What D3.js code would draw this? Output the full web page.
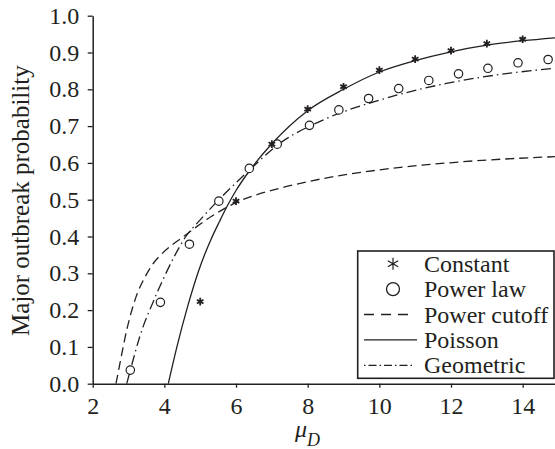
<!DOCTYPE html>
<html>
<head>
<meta charset="utf-8">
<script src="https://cdn.jsdelivr.net/npm/d3@7"></script>
<style>
  html, body { margin: 0; padding: 0; background: #fff; }
  svg { display: block; }
  text { font-family: "Liberation Serif", "Times New Roman", serif; fill: #231f20; }
</style>
</head>
<body>
<svg id="drawing_region"></svg>
<script>
// values
const xTicks = [2, 4, 6, 8, 10, 12, 14];
const yTicks = [0, 0.1, 0.2, 0.3, 0.4, 0.5, 0.6, 0.7, 0.8, 0.9, 1.0];

const muConstant   = [5, 6, 7, 8, 9, 10, 11, 12, 13, 14];
const probConstant = [0.223, 0.496, 0.651, 0.746, 0.807, 0.852, 0.882, 0.905, 0.924, 0.936];

const muPowerLaw   = [3.05, 3.89, 4.70, 5.52, 6.37, 7.15, 8.05, 8.87, 9.70, 10.54, 11.38, 12.21, 13.03, 13.87, 14.71];
const probPowerLaw = [0.037, 0.221, 0.379, 0.496, 0.585, 0.651, 0.702, 0.744, 0.775, 0.802, 0.824, 0.842, 0.857, 0.872, 0.881];

const muCutoff   = [2.65, 2.76, 2.95, 3.21, 3.46, 3.7, 3.92, 4.2, 4.51, 4.81, 5.32, 5.7, 6.0, 7.3, 8.0, 10.0, 12.3, 14.9];
const probCutoff = [0, 0.055, 0.146, 0.236, 0.29, 0.328, 0.352, 0.376, 0.398, 0.42, 0.455, 0.477, 0.492, 0.533, 0.549, 0.581, 0.603, 0.617];

const muPoisson   = [4.11, 4.35, 4.65, 4.95, 5.3, 5.55, 5.74, 6.0, 6.37, 7.0, 8, 9, 10, 11, 12, 13, 14, 14.9];
const probPoisson = [0, 0.1, 0.21, 0.305, 0.392, 0.443, 0.48, 0.525, 0.578, 0.652, 0.742, 0.80, 0.847, 0.878, 0.902, 0.92, 0.932, 0.94];

const muGeometric   = [2.95, 3.06, 3.32, 3.69, 4.02, 4.3, 4.6, 5.0, 5.5, 6.0, 6.37, 7.15, 8.44, 10.02, 11.87, 13.74, 14.9];
const probGeometric = [0, 0.04, 0.13, 0.223, 0.295, 0.35, 0.4, 0.445, 0.498, 0.546, 0.58, 0.648, 0.717, 0.771, 0.816, 0.845, 0.857];

const legendLabels = ["Constant", "Power law", "Power cutoff", "Poisson", "Geometric"];

const config = {
    width: 555,
    height: 449,
    ink: "#231f20",
    fontSize: 24
};

const svg = d3.select("#drawing_region")
    .attr("width", config.width)
    .attr("height", config.height);

const xscale = d3.scaleLinear().domain([2, 15]).range([92.7, 558.5]);
const yscale = d3.scaleLinear().domain([0, 1]).range([383.7, 15.7]);

const zip = (xs, ys) => xs.map((x, i) => ({x: x, y: ys[i]}));

// axes
const xaxis = d3.axisBottom(xscale)
    .tickValues(xTicks)
    .tickFormat(d3.format("d"))
    .tickSize(4)
    .tickSizeOuter(0)
    .tickPadding(9);

const yaxis = d3.axisLeft(yscale)
    .tickValues(yTicks)
    .tickFormat(d3.format(".1f"))
    .tickSize(5)
    .tickSizeOuter(0)
    .tickPadding(8.4);

const xaxis_group = svg.append("g")
    .attr("transform", `translate(0, ${yscale(0)})`)
    .call(xaxis);

const yaxis_group = svg.append("g")
    .attr("transform", `translate(${xscale(2)}, 0)`)
    .call(yaxis);

[xaxis_group, yaxis_group].forEach(g => {
    g.select(".domain").attr("stroke", config.ink).attr("stroke-width", 1.5);
    g.selectAll(".tick line").attr("stroke", config.ink).attr("stroke-width", 1.3);
    g.selectAll(".tick text")
        .attr("font-size", config.fontSize)
        .attr("fill", config.ink);
});

// axis labels
svg.append("text")
    .attr("transform", `translate(29, ${(yscale(0) + yscale(1)) / 2 + 1}) rotate(-90)`)
    .attr("text-anchor", "middle")
    .attr("font-size", 25)
    .text("Major outbreak probability");

const xlabel = svg.append("text")
    .attr("x", 295)
    .attr("y", 437)
    .attr("font-size", 24)
    .attr("font-style", "italic");
xlabel.append("tspan").text("\u03bc");
xlabel.append("tspan").attr("dy", 9).attr("font-size", 18).text("D");

// curves
const line = d3.line()
    .x(d => xscale(d.x))
    .y(d => yscale(d.y))
    .curve(d3.curveMonotoneX);

const curves = [
    {data: zip(muCutoff, probCutoff), dash: "9,5"},
    {data: zip(muGeometric, probGeometric), dash: "10,4,1.5,4"},
    {data: zip(muPoisson, probPoisson), dash: null}
];

curves.forEach(c => {
    svg.append("path")
        .attr("d", line(c.data))
        .attr("fill", "none")
        .attr("stroke", config.ink)
        .attr("stroke-width", 1.3)
        .attr("stroke-dasharray", c.dash);
});

// markers
const asteriskPath = (r) => {
    const a = r * Math.cos(Math.PI / 6), b = r * 0.5;
    return `M0,${-r}L0,${r}M${-a},${-b}L${a},${b}M${-a},${b}L${a},${-b}`;
};

svg.append("g").selectAll("circle")
    .data(zip(muPowerLaw, probPowerLaw))
    .enter()
    .append("circle")
    .attr("cx", d => xscale(d.x))
    .attr("cy", d => yscale(d.y))
    .attr("r", 4.2)
    .attr("fill", "#fff")
    .attr("stroke", config.ink)
    .attr("stroke-width", 1.2);

svg.append("g").selectAll("path")
    .data(zip(muConstant, probConstant))
    .enter()
    .append("path")
    .attr("transform", d => `translate(${xscale(d.x)}, ${yscale(d.y)})`)
    .attr("d", asteriskPath(3.8))
    .attr("stroke", config.ink)
    .attr("stroke-width", 1.8);

// legend
const legend = svg.append("g");
legend.append("rect")
    .attr("x", 357.7)
    .attr("y", 251)
    .attr("width", 196.3)
    .attr("height", 127.3)
    .attr("fill", "#fff")
    .attr("stroke", config.ink)
    .attr("stroke-width", 1.6);

const legendBase = 271.7, legendStep = 25.4;
const legendDash = [null, null, "10,7", null, "1.5,3,8,3"];
const legendEnd = [0, 0, 408, 417, 413];
legendLabels.forEach((label, i) => {
    const by = legendBase + i * legendStep;
    const cy = by - 8;
    legend.append("text")
        .attr("x", 424)
        .attr("y", by)
        .attr("font-size", config.fontSize)
        .text(label);
    if (i === 0) {
        legend.append("path")
            .attr("transform", `translate(393, ${cy})`)
            .attr("d", asteriskPath(6))
            .attr("stroke", config.ink)
            .attr("stroke-width", 1.2);
    } else if (i === 1) {
        legend.append("circle")
            .attr("cx", 393).attr("cy", cy).attr("r", 6.5)
            .attr("fill", "none")
            .attr("stroke", config.ink)
            .attr("stroke-width", 1.3);
    } else {
        legend.append("line")
            .attr("x1", 364).attr("x2", legendEnd[i])
            .attr("y1", cy).attr("y2", cy)
            .attr("stroke", config.ink)
            .attr("stroke-width", 1.3)
            .attr("stroke-dasharray", legendDash[i]);
    }
});
</script>
</body>
</html>
